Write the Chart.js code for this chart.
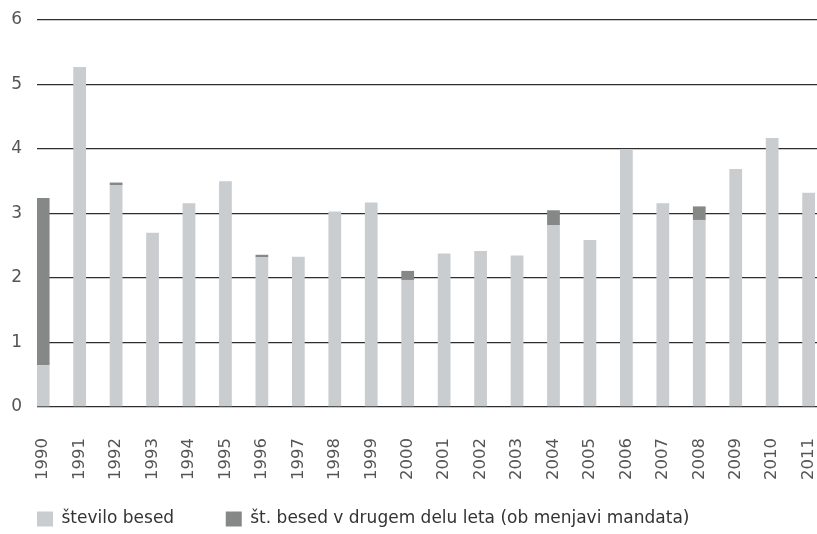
<!DOCTYPE html>
<html>
<head>
<meta charset="utf-8">
<script src="https://cdn.jsdelivr.net/npm/chart.js@4/dist/chart.umd.min.js"></script>
<style>
  html, body { margin: 0; padding: 0; background: #fff; overflow: hidden; }
  #wrap { width: 817px; height: 534px; }
</style>
</head>
<body>
<div id="wrap"><canvas id="besede"></canvas></div>
<script>
// leta in vrednosti
var leta = ['1990', '1991', '1992', '1993', '1994', '1995', '1996', '1997', '1998', '1999', '2000',
            '2001', '2002', '2003', '2004', '2005', '2006', '2007', '2008', '2009', '2010', '2011'];
var steviloBesed = [0.65, 5.27, 3.44, 2.70, 3.16, 3.50, 2.32, 2.33, 3.03, 3.17, 1.97,
                    2.38, 2.42, 2.35, 2.82, 2.59, 4.00, 3.16, 2.90, 3.69, 4.17, 3.32];
var drugiDel = [2.59, 0, 0.04, 0, 0, 0, 0.04, 0, 0, 0, 0.14,
                0, 0, 0, 0.23, 0, 0, 0, 0.21, 0, 0, 0];
var yTicks = [0, 1, 2, 3, 4, 5, 6];

function tocke(arr) {
    return arr.map(function (v, i) { return { x: i, y: v }; });
}

var pisava = '"DejaVu Sans", sans-serif';

var ctx = document.getElementById('besede').getContext('2d');
var chart = new Chart(ctx, {
    type: 'bar',
    data: {
        datasets: [{
            // presledki na koncu razmaknejo legendo
            label: 'število besed\u00a0\u00a0\u00a0\u00a0',
            data: tocke(steviloBesed),
            backgroundColor: '#c9cdcf',
            borderWidth: 0,
            barPercentage: 0.35,
            categoryPercentage: 1
        }, {
            label: 'št. besed v drugem delu leta (ob menjavi mandata)',
            data: tocke(drugiDel),
            backgroundColor: '#858887',
            borderWidth: 0,
            barPercentage: 0.35,
            categoryPercentage: 1
        }]
    },
    options: {
        responsive: true,
        maintainAspectRatio: false,
        animation: false,
        layout: { padding: { left: 7, right: 0, top: 20, bottom: -3.5 } },
        plugins: {
            tooltip: { enabled: false },
            legend: {
                position: 'bottom',
                align: 'start',
                labels: {
                    boxWidth: 16,
                    boxHeight: 15,
                    padding: 30,
                    color: '#333',
                    font: { family: pisava, size: 17 }
                }
            }
        },
        scales: {
            x: {
                type: 'linear',
                stacked: true,
                offset: false,
                min: -0.17,
                max: 21.23,
                grid: { display: false, drawTicks: false, offset: false },
                border: { display: false },
                afterBuildTicks: function (s) {
                    s.ticks = leta.map(function (l, i) { return { value: i }; });
                },
                afterFit: function (s) {
                    s.height = 73.5;
                    s.paddingLeft = 0;
                    s.paddingRight = 0;
                },
                ticks: {
                    autoSkip: false,
                    minRotation: 90,
                    maxRotation: 90,
                    padding: 31,
                    color: '#555',
                    font: { family: pisava, size: 16.5 },
                    callback: function (v) { return leta[v]; }
                }
            },
            y: {
                stacked: true,
                min: 0,
                max: 6,
                afterBuildTicks: function (s) {
                    s.ticks = yTicks.map(function (v) { return { value: v }; });
                },
                afterFit: function (s) {
                    s.width = 30;
                    s.paddingTop = 0;
                    s.paddingBottom = 0;
                },
                grid: { color: '#2e2e2e', lineWidth: 1.3, drawTicks: false },
                border: { display: false },
                ticks: {
                    padding: 15,
                    color: '#555',
                    font: { family: pisava, size: 17 }
                }
            }
        }
    }
});
</script>
</body>
</html>
